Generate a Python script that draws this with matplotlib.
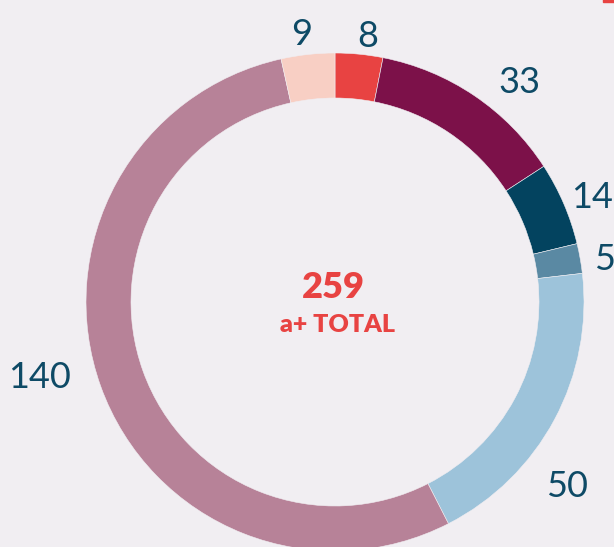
import numpy as np
import matplotlib.pyplot as plt
from matplotlib.patches import Rectangle

# data, clockwise from 12 o'clock
values = [8, 33, 14, 5, 50, 140, 9]
colors = ['#e84342', '#7c1149', '#03435f', '#5a89a3', '#9dc3da', '#b78298', '#f8cfc4']
total_label = 'a+ TOTAL'

# label nudges in pixels (dx, dy) from the mid-angle position
nudges = [(6, -12), (28, -12), (1, -6), (-5, -6), (-14, -53), (-33, 19), (-3, -10)]

W, H = 614, 547
cx, cy, R = 335, H - 302, 249

fig = plt.figure(figsize=(W / 100, H / 100), dpi=100)
bg = '#f1eef2'
fig.patch.set_facecolor(bg)
ax = fig.add_axes([0, 0, 1, 1])
ax.set_facecolor(bg)

ax.pie(values, colors=colors, startangle=90, counterclock=False,
       center=(cx, cy), radius=R, frame=True,
       wedgeprops=dict(width=45, edgecolor=bg, linewidth=0.4))
ax.set_xlim(0, W)
ax.set_ylim(0, H)
ax.set_aspect('equal')
ax.axis('off')

total = sum(values)
cum = np.cumsum(values) - np.array(values) / 2
for v, c, (dx, dy) in zip(values, cum, nudges):
    ang = np.deg2rad(90 - c / total * 360)
    r = R * 1.12
    x = cx + r * np.cos(ang) + dx
    y = cy + r * np.sin(ang) + dy
    ax.text(x, y, str(v), ha='center', va='center', fontsize=26,
            family='Lato', color='#0e4a66')

ax.text(cx - 2, H - 287, str(total), ha='center', va='center', fontsize=26,
        family='Lato', fontweight='heavy', color='#e84342')
ax.text(cx + 2, H - 325, total_label, ha='center', va='center', fontsize=18,
        family='Lato', fontweight='heavy', color='#e84342')

# cropped marker at top-right corner
ax.add_patch(Rectangle((603, H - 2), 12, 3, color='#e84342', clip_on=False))

fig.savefig('out.png', dpi=100, facecolor=bg)
